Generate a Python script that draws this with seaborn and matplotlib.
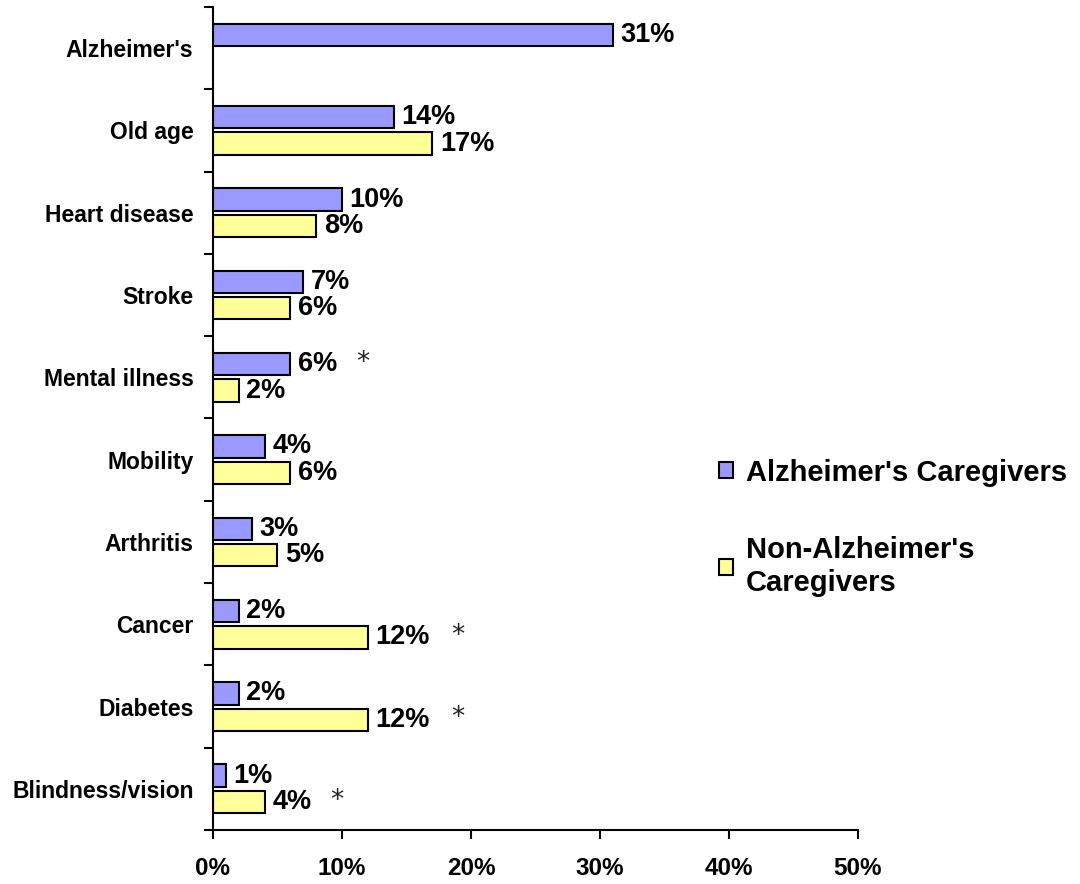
import numpy as np
import pandas as pd
import matplotlib
matplotlib.use("Agg")
import matplotlib.pyplot as plt
import seaborn as sns

# data
categories = ["Alzheimer's", "Old age", "Heart disease", "Stroke", "Mental illness",
              "Mobility", "Arthritis", "Cancer", "Diabetes", "Blindness/vision"]
alz_values = [31, 14, 10, 7, 6, 4, 3, 2, 2, 1]
non_alz_values = [np.nan, 17, 8, 6, 2, 6, 5, 12, 12, 4]
groups = ["Alzheimer's Caregivers", "Non-Alzheimer's Caregivers"]
legend_labels = ["Alzheimer's Caregivers", "Non-Alzheimer's\nCaregivers"]
# significant differences marked with an asterisk: (category, group)
starred = [("Mental illness", 0), ("Cancer", 1), ("Diabetes", 1), ("Blindness/vision", 1)]
x_ticks = [0, 10, 20, 30, 40, 50]

df = pd.DataFrame({
    "condition": categories * 2,
    "group": [groups[0]] * len(categories) + [groups[1]] * len(categories),
    "pct": alz_values + non_alz_values,
})

sns.set_style("white")
plt.rcParams["font.family"] = ["Liberation Sans", "DejaVu Sans"]
plt.rcParams["font.weight"] = "bold"
plt.rcParams["text.color"] = "black"
plt.rcParams["xtick.color"] = "black"
plt.rcParams["ytick.color"] = "black"

fig = plt.figure(figsize=(10.8, 8.84), dpi=100)
ax = fig.add_axes([0.1972, 0.0611, 0.5972, 0.9310])

sns.barplot(data=df, y="condition", x="pct", hue="group", order=categories,
            hue_order=groups, palette=["#9999FF", "#FFFF99"], saturation=1,
            orient="h", width=0.64, gap=0.15, edgecolor="black", linewidth=1.5,
            errorbar=None, ax=ax)

# value labels
for c in ax.containers:
    ax.bar_label(c, labels=[f"{v:.0f}%" for v in c.datavalues], padding=5.5,
                 fontsize=19.5, fontweight="bold", color="black")

# asterisks
for cat, g in starred:
    vals = alz_values if g == 0 else non_alz_values
    v = vals[categories.index(cat)]
    off = 0.16 if g == 1 else -0.16
    ax.annotate("*", xy=(v, categories.index(cat) + off), xytext=(52 if v < 10 else 65, 1),
                textcoords="offset points", ha="center", va="center",
                fontsize=19, fontweight="normal", color="#222222",
                family="DejaVu Sans")

ax.set_xlim(0, 50)
ax.set_ylim(len(categories) - 0.5, -0.5)
ax.set_xticks(x_ticks)
ax.set_xticklabels([f"{t}%" for t in x_ticks], fontsize=17.5, fontweight="bold")
ax.set_yticks(np.arange(-0.5, len(categories), 1))
ax.set_yticklabels([])
ax.set_yticks(range(len(categories)), labels=categories, minor=True)
ax.tick_params(axis="y", which="minor", length=0, pad=14, labelsize=16.5)
ax.tick_params(axis="y", which="major", direction="out", length=6.5, width=1.5, left=True)
ax.tick_params(axis="x", direction="out", length=6.5, width=1.5, pad=13, bottom=True)
for lbl in ax.get_yticklabels(minor=True):
    lbl.set_fontweight("bold")
ax.set_xlabel("")
ax.set_ylabel("")
for s in ["top", "right"]:
    ax.spines[s].set_visible(False)
for s in ["left", "bottom"]:
    ax.spines[s].set_color("black")
    ax.spines[s].set_linewidth(1.5)

handles, _ = ax.get_legend_handles_labels()
ax.legend(handles, legend_labels, loc="upper left", bbox_to_anchor=(0.641, 0.511),
          bbox_transform=fig.transFigure, frameon=False,
          handlelength=0.5, handleheight=0.5, handletextpad=0.45, labelspacing=1.7,
          prop={"weight": "bold", "size": 21})

fig.savefig("out.png", dpi=100)
